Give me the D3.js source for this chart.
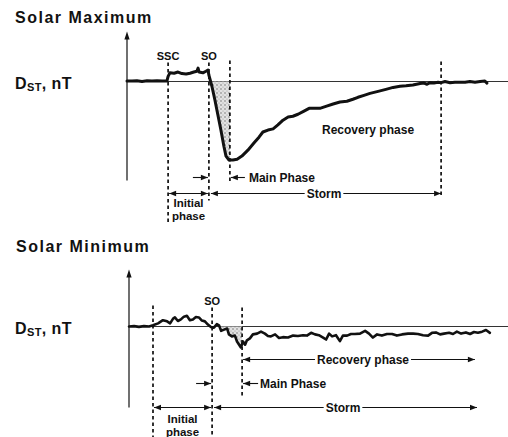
<!DOCTYPE html>
<html><head><meta charset="utf-8">
<script src="https://cdn.jsdelivr.net/npm/d3@7"></script>
<style>
body{margin:0;background:#fff}
svg{display:block}
text{font-family:"Liberation Sans",Arial,Helvetica,sans-serif;font-weight:bold;fill:#111}
</style>
</head><body><svg id="c" width="508" height="437"></svg>
<script>
// ---------- DATA ----------
// Solar maximum storm: time (h) and Dst (nT)
const maxTime = [0,1.7,3.3,5,6.7,8.3,10,11.7,13.3,13.7,14.3,15.7,17,18.3,19.7,21,22.3,23.3,23.7,24,25.3,26.3,27,27.3,28.3,29.3,30.3,31.3,32.3,33,34,35.3,36.7,38.3,40.3,42.3,44,45.3,47,48.7,50.3,52,53.7,55.3,57,59,60.7,62.3,64.3,66.3,68.7,71,73.3,75.3,77,79,81,83.7,86.3,88.7,91,93,95.3,97.7,99,100,101,102.3,103.7,104.7,106,107.7,109.3,111,112.7,114.3,116,117.7,119.3,120];
const maxDst  = [1,1,2,0,2,1,2,1,1,13,22,21,24,20,19,21,24,26,34,24,22,26,29,16,-12,-47,-85,-123,-164,-189,-199,-199,-197,-189,-174,-156,-141,-128,-123,-120,-110,-98,-90,-88,-83,-75,-68,-68,-68,-63,-57,-52,-50,-45,-40,-35,-30,-25,-20,-15,-12,-11,-9,-5,-4,-7,-3,-4,-2,-3,0,-3,-2,-2,-2,0,-2,0,1,-4];
// Solar minimum storm
const minTime = [0,1.7,3.3,5,6.7,8,9.7,11.3,12.7,13.7,14.7,15.3,16.3,17.3,18.3,19.3,20.3,21.3,22.3,23.3,24.3,25.3,26.3,27.3,28.3,29.3,30,30.7,31.7,32.7,33.3,34.3,35.3,36,36.7,37.3,38,38.7,39.3,40.3,41.3,42.7,44,45.3,46.3,47.3,48.7,50,51.3,53,54.7,56.3,58,59.3,60.7,62,63.3,64.7,65.7,66.7,67.7,69,70.3,71.3,72.7,74,75.3,77,78.7,80,81.3,82.7,84.3,86,87.7,89.3,91,93,94.7,96.3,98,99.7,101,102.3,103.7,105,106.7,108,109.3,110.7,112.3,113.7,115,116.3,117.7,119,120.3];
const minDst  = [0,1,-1,1,0,3,8,16,13,8,20,23,14,18,25,27,16,18,24,23,15,13,5,-1,-3,6,3,-11,-8,-5,-20,-25,-23,-38,-46,-53,-38,-46,-35,-30,-20,-18,-13,-18,-24,-25,-20,-29,-27,-28,-23,-24,-22,-23,-16,-20,-22,-28,-33,-18,-25,-22,-37,-23,-23,-19,-19,-18,-11,-18,-28,-20,-23,-19,-19,-23,-20,-18,-18,-19,-22,-23,-16,-15,-20,-18,-16,-19,-13,-18,-15,-19,-14,-16,-13,-9,-16];
// Phase boundaries (h)
const maxEvents = [13.7, 27.3, 34.3, 104.7];          // SSC, SO, end of main phase, end of storm
const minEvents = [8, 27.7, 37.7, 115.3, 116];        // start of initial phase, SO, end of main, end of recovery, end of storm
const titles = ["Solar Maximum", "Solar Minimum"];
const phaseLabels = ["Initial", "phase", "Main Phase", "Storm", "Recovery phase"];

// ---------- DRAW ----------
const svg = d3.select("#c");
const defs = svg.append("defs");
const pat = defs.append("pattern").attr("id","stip").attr("width",4).attr("height",4).attr("patternUnits","userSpaceOnUse");
pat.append("rect").attr("width",4).attr("height",4).attr("fill","#e2e2e2");
pat.append("circle").attr("cx",1).attr("cy",1).attr("r",0.75).attr("fill","#6e6e6e");
pat.append("circle").attr("cx",3).attr("cy",3).attr("r",0.6).attr("fill","#999");

function head(g, x, y, dir){
  g.append("path").attr("d",`M${x},${y}L${x-dir*7},${y-2.8}L${x-dir*7},${y+2.8}Z`).attr("fill","#111");
}
function hline(g,x1,x2,y){
  g.append("line").attr("x1",x1).attr("x2",x2).attr("y1",y).attr("y2",y).attr("stroke","#111").attr("stroke-width",1.1);
}
function labelArrow(g, x1, x2, y, label, cx, headStart, headEnd){
  const t = g.append("text").attr("x",cx).attr("y",y+4.3).attr("text-anchor","middle").attr("font-size",12).text(label);
  const w = t.node().getComputedTextLength();
  hline(g, x1, cx - w/2 - 2, y);
  hline(g, cx + w/2 + 2, x2, y);
  if(headStart) head(g, x1, y, -1);
  if(headEnd) head(g, x2, y, 1);
}
function vdash(g, x, y1, y2){
  g.append("line").attr("x1",x).attr("x2",x).attr("y1",y1).attr("y2",y2)
   .attr("stroke","#111").attr("stroke-width",1.7).attr("stroke-dasharray","3.5,3");
}
function interp(times, vals, t){
  const i = d3.bisectRight(times, t);
  if(i<=0) return vals[0];
  if(i>=times.length) return vals[vals.length-1];
  const a=times[i-1], b=times[i];
  return vals[i-1] + (vals[i]-vals[i-1])*(t-a)/(b-a);
}
function shadeData(times, vals, t0, t1){
  const pts=[[t0, interp(times,vals,t0)]];
  times.forEach((t,i)=>{ if(t>t0 && t<t1) pts.push([t, vals[i]]); });
  pts.push([t1, interp(times,vals,t1)]);
  return pts;
}

function panel(opt){
  const g = svg.append("g");
  const x = d3.scaleLinear().domain([0,121]).range([opt.x0, opt.x0+363]);
  const y = d3.scaleLinear().domain([-250,125]).range([opt.base+98.67, opt.base-49.33]);
  const b = y(0);
  g.append("text").attr("x",opt.tx).attr("y",opt.ty).attr("font-size",16).attr("letter-spacing",1.5).text(opt.title);
  const yl = g.append("text").attr("x",15).attr("y",b+7).attr("font-size",16).attr("letter-spacing",0.4);
  yl.append("tspan").text("D");
  yl.append("tspan").attr("font-size",11).attr("dy",2).text("ST");
  yl.append("tspan").attr("dy",-2).text(", nT");
  g.append("line").attr("x1",x(0)).attr("x2",x(0)).attr("y1",b-opt.axTop+4).attr("y2",b+opt.axBot).attr("stroke","#111").attr("stroke-width",1.2);
  g.append("path").attr("d",`M${x(0)},${b-opt.axTop}L${x(0)-2.6},${b-opt.axTop+8}L${x(0)+2.6},${b-opt.axTop+8}Z`).attr("fill","#111");
  g.append("line").attr("x1",x(0)).attr("x2",508).attr("y1",b).attr("y2",b).attr("stroke","#333").attr("stroke-width",1.1);
  const sd = shadeData(opt.times, opt.vals, opt.shade[0], opt.shade[1]);
  g.append("path").datum(sd)
    .attr("d", d3.area().x(d=>x(d[0])).y0(b).y1(d=>y(Math.min(0,d[1]))))
    .attr("fill","url(#stip)");
  g.append("path").datum(opt.times.map((t,i)=>[t,opt.vals[i]]))
    .attr("d", d3.line().x(d=>x(d[0])).y(d=>y(d[1])))
    .attr("fill","none").attr("stroke","#111").attr("stroke-width",opt.lw).attr("stroke-linejoin","round").attr("stroke-linecap","round");
  return {g,x,y,b};
}

// ----- Solar maximum -----
{
  const [tSSC,tSO,tMain,tEnd] = maxEvents;
  const P = panel({title:titles[0], tx:15, ty:23, x0:127, base:81.5, axTop:50, axBot:99,
    times:maxTime, vals:maxDst, shade:[tSO,tMain], lw:3});
  const {g,x,b} = P;
  vdash(g, x(tSSC), b-19, b+141);
  vdash(g, x(tSO), b-19, b+119);
  vdash(g, x(tMain), b-21, b+102);
  vdash(g, x(tEnd), b-20, b+115);
  g.append("text").attr("x",x(tSSC)).attr("y",b-21.5).attr("text-anchor","middle").attr("font-size",11).text("SSC");
  g.append("text").attr("x",x(tSO)).attr("y",b-21.5).attr("text-anchor","middle").attr("font-size",11).text("SO");
  g.append("text").attr("x",322).attr("y",b+52.5).attr("font-size",12).text(phaseLabels[4]);
  const r1 = b+96;
  hline(g, x(tSO)-16, x(tSO)-1, r1); head(g, x(tSO)-1, r1, 1);
  hline(g, x(tMain)+1, x(tMain)+15, r1); head(g, x(tMain)+1, r1, -1);
  g.append("text").attr("x",x(tMain)+19).attr("y",r1+4.3).attr("font-size",12).text(phaseLabels[2]);
  const r2 = b+112;
  hline(g, x(tSSC)+1, x(tSO)-1, r2); head(g, x(tSSC)+1, r2, -1); head(g, x(tSO)-1, r2, 1);
  labelArrow(g, x(tSO)+2, x(tEnd), r2, phaseLabels[3], 324, true, true);
  const cx = (x(tSSC)+x(tSO))/2;
  g.append("text").attr("x",cx).attr("y",b+125).attr("text-anchor","middle").attr("font-size",11.5).text(phaseLabels[0]);
  g.append("text").attr("x",cx).attr("y",b+138.5).attr("text-anchor","middle").attr("font-size",11.5).text(phaseLabels[1]);
}

// ----- Solar minimum -----
{
  const [tInit,tSO,tMain,tRec,tEnd] = minEvents;
  const P = panel({title:titles[1], tx:16, ty:252, x0:129, base:326.5, axTop:57, axBot:81,
    times:minTime, vals:minDst, shade:[tSO,tMain], lw:2.6});
  const {g,x,b} = P;
  vdash(g, x(tInit), b-21, 437);
  vdash(g, x(tSO), b-19, 437);
  vdash(g, x(tMain), b-19, b+71);
  g.append("text").attr("x",x(tSO)).attr("y",b-22).attr("text-anchor","middle").attr("font-size",11).text("SO");
  labelArrow(g, x(tMain)+1, x(tRec), b+33, phaseLabels[4], 363, true, true);
  const r1 = b+57;
  hline(g, x(tSO)-16, x(tSO)-1, r1); head(g, x(tSO)-1, r1, 1);
  hline(g, x(tMain)+1, x(tMain)+16, r1); head(g, x(tMain)+1, r1, -1);
  g.append("text").attr("x",x(tMain)+18).attr("y",r1+4.3).attr("font-size",12).text(phaseLabels[2]);
  const r2 = b+81;
  hline(g, x(tInit)+1, x(tSO)-1, r2); head(g, x(tInit)+1, r2, -1); head(g, x(tSO)-1, r2, 1);
  labelArrow(g, x(tSO)+2, x(tEnd), r2, phaseLabels[3], 343, true, true);
  const cx = (x(tInit)+x(tSO))/2;
  g.append("text").attr("x",cx).attr("y",b+96).attr("text-anchor","middle").attr("font-size",11.5).text(phaseLabels[0]);
  g.append("text").attr("x",cx).attr("y",b+109.3).attr("text-anchor","middle").attr("font-size",11.5).text(phaseLabels[1]);
}
</script>
</body></html>
